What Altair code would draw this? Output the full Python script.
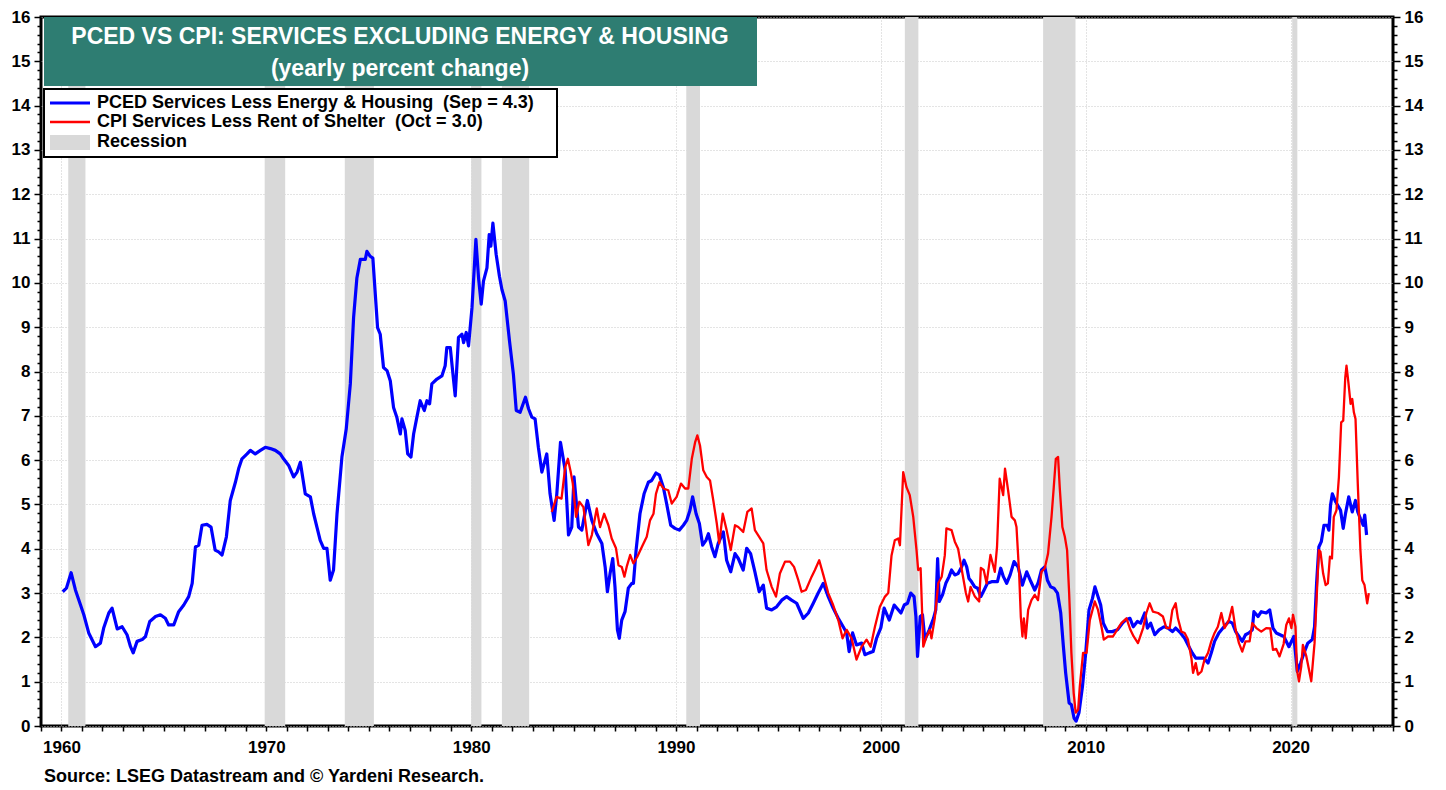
import altair as alt
import pandas as pd

# ---------------- data ----------------
pced_year = [1960.06, 1960.24, 1960.47, 1960.68, 1960.93, 1961.09, 1961.33, 1961.66, 1961.90, 1962.06,
             1962.31, 1962.47, 1962.72, 1962.96, 1963.20, 1963.37, 1963.50, 1963.69, 1963.94, 1964.10,
             1964.31, 1964.59, 1964.83, 1965.07, 1965.23, 1965.48, 1965.72, 1965.97, 1966.21, 1966.38,
             1966.54, 1966.70, 1966.86, 1967.10, 1967.30, 1967.50, 1967.67, 1967.84, 1968.05, 1968.24,
             1968.49, 1968.65, 1968.81, 1969.06, 1969.22, 1969.46, 1969.71, 1969.95, 1970.20, 1970.44,
             1970.68, 1970.84, 1971.09, 1971.33, 1971.50, 1971.66, 1971.90, 1972.15, 1972.31, 1972.47,
             1972.63, 1972.80, 1972.96, 1973.12, 1973.28, 1973.45, 1973.69, 1973.90, 1974.10, 1974.26,
             1974.42, 1974.59, 1974.83, 1974.91, 1975.07, 1975.20, 1975.32, 1975.43, 1975.56, 1975.72,
             1975.89, 1976.05, 1976.21, 1976.37, 1976.54, 1976.62, 1976.78, 1976.90, 1977.06, 1977.19,
             1977.35, 1977.51, 1977.71, 1977.84, 1977.97, 1978.08, 1978.33, 1978.57, 1978.73, 1978.81,
             1978.98, 1979.11, 1979.22, 1979.38, 1979.55, 1979.63, 1979.76, 1979.87, 1980.04, 1980.23,
             1980.36, 1980.49, 1980.60, 1980.77, 1980.88, 1980.96, 1981.06, 1981.22, 1981.38, 1981.50,
             1981.66, 1981.87, 1982.06, 1982.20, 1982.39, 1982.52, 1982.65, 1982.80, 1982.96, 1983.12,
             1983.28, 1983.45, 1983.69, 1983.85, 1984.05, 1984.18, 1984.36, 1984.59, 1984.75, 1984.91,
             1985.02, 1985.24, 1985.40, 1985.67, 1985.89, 1986.13, 1986.38, 1986.54, 1986.65, 1986.78,
             1986.91, 1987.02, 1987.14, 1987.23, 1987.35, 1987.51, 1987.67, 1987.84, 1987.92, 1988.05,
             1988.24, 1988.44, 1988.65, 1988.81, 1989.02, 1989.19, 1989.38, 1989.54, 1989.74, 1989.95,
             1990.16, 1990.36, 1990.52, 1990.68, 1990.81, 1990.98, 1991.14, 1991.30, 1991.46, 1991.58,
             1991.74, 1991.90, 1992.06, 1992.31, 1992.47, 1992.67, 1992.88, 1993.04, 1993.28, 1993.45,
             1993.64, 1993.85, 1994.06, 1994.26, 1994.42, 1994.67, 1994.91, 1995.16, 1995.40, 1995.64,
             1995.89, 1996.21, 1996.46, 1996.70, 1996.94, 1997.19, 1997.43, 1997.67, 1997.92, 1998.16,
             1998.33, 1998.45, 1998.62, 1998.81, 1999.06, 1999.22, 1999.43, 1999.62, 1999.79, 2000.00,
             2000.16, 2000.41, 2000.65, 2000.98, 2001.14, 2001.30, 2001.46, 2001.62, 2001.71, 2001.79,
             2001.92, 2002.03, 2002.15, 2002.36, 2002.57, 2002.68, 2002.77, 2002.85, 2003.01, 2003.17,
             2003.33, 2003.45, 2003.61, 2003.77, 2003.94, 2004.06, 2004.19, 2004.30, 2004.42, 2004.58,
             2004.72, 2004.88, 2005.04, 2005.20, 2005.44, 2005.69, 2005.85, 2005.98, 2006.14, 2006.31,
             2006.50, 2006.70, 2006.91, 2007.12, 2007.32, 2007.51, 2007.67, 2007.84, 2008.00, 2008.13,
             2008.29, 2008.45, 2008.62, 2008.78, 2008.91, 2009.02, 2009.19, 2009.30, 2009.43, 2009.53,
             2009.67, 2009.84, 2010.00, 2010.16, 2010.33, 2010.45, 2010.60, 2010.73, 2010.86, 2011.06,
             2011.30, 2011.55, 2011.79, 2011.95, 2012.16, 2012.32, 2012.52, 2012.68, 2012.88, 2013.01,
             2013.17, 2013.37, 2013.58, 2013.82, 2014.01, 2014.23, 2014.39, 2014.63, 2014.83, 2015.04,
             2015.20, 2015.37, 2015.58, 2015.77, 2015.97, 2016.13, 2016.29, 2016.50, 2016.75, 2016.99,
             2017.16, 2017.32, 2017.48, 2017.64, 2017.80, 2017.97, 2018.13, 2018.21, 2018.41, 2018.57,
             2018.81, 2018.98, 2019.14, 2019.30, 2019.67, 2019.92, 2020.16, 2020.33, 2020.49, 2020.68,
             2020.84, 2021.06, 2021.17, 2021.27, 2021.38, 2021.50, 2021.63, 2021.79, 2021.87, 2021.95,
             2022.04, 2022.20, 2022.44, 2022.57, 2022.68, 2022.84, 2023.01, 2023.17, 2023.28, 2023.41,
             2023.55, 2023.62, 2023.71]
pced_val = [3.03, 3.11, 3.46, 3.07, 2.73, 2.51, 2.10, 1.79, 1.87, 2.21,
            2.55, 2.66, 2.19, 2.24, 2.06, 1.79, 1.65, 1.91, 1.95, 2.02,
            2.36, 2.47, 2.51, 2.43, 2.28, 2.28, 2.58, 2.73, 2.92, 3.22,
            4.04, 4.08, 4.53, 4.55, 4.49, 3.97, 3.93, 3.86, 4.27, 5.09,
            5.50, 5.81, 6.03, 6.14, 6.22, 6.14, 6.22, 6.29, 6.26, 6.22,
            6.14, 6.03, 5.88, 5.62, 5.73, 5.95, 5.24, 5.17, 4.79, 4.49,
            4.19, 4.01, 4.01, 3.29, 3.52, 4.79, 6.07, 6.70, 7.72, 9.22,
            10.11, 10.53, 10.53, 10.71, 10.60, 10.56, 9.74, 8.99, 8.84, 8.09,
            8.02, 7.79, 7.19, 6.97, 6.59, 6.93, 6.67, 6.14, 6.07, 6.59,
            6.97, 7.34, 7.12, 7.34, 7.27, 7.72, 7.83, 7.90, 8.13, 8.54,
            8.54, 7.94, 7.45, 8.77, 8.84, 8.65, 8.88, 8.58, 9.44, 10.98,
            10.11, 9.52, 10.04, 10.34, 11.09, 10.83, 11.35, 10.64, 10.15, 9.85,
            9.59, 8.69, 7.94, 7.12, 7.08, 7.25, 7.42, 7.16, 6.97, 6.93,
            6.29, 5.73, 6.14, 5.24, 4.64, 5.24, 6.40, 5.77, 4.31, 4.49,
            5.62, 4.49, 4.42, 5.09, 4.64, 4.34, 4.12, 3.59, 3.03, 3.44,
            3.78, 3.14, 2.17, 1.98, 2.39, 2.58, 3.11, 3.22, 3.22, 3.97,
            4.79, 5.24, 5.50, 5.54, 5.71, 5.66, 5.39, 5.02, 4.53, 4.46,
            4.42, 4.53, 4.64, 4.87, 5.17, 4.79, 4.57, 4.08, 4.19, 4.34,
            4.04, 3.82, 4.12, 4.38, 3.74, 3.48, 3.89, 3.78, 3.52, 4.01,
            3.89, 3.48, 3.03, 3.18, 2.66, 2.62, 2.69, 2.84, 2.92, 2.84,
            2.77, 2.43, 2.55, 2.77, 3.00, 3.22, 2.92, 2.66, 2.43, 2.24,
            2.10, 1.68, 2.10, 1.83, 1.87, 1.61, 1.65, 1.68, 1.98, 2.22,
            2.66, 2.39, 2.73, 2.55, 2.73, 2.77, 3.00, 2.92, 2.47, 1.57,
            2.47, 2.51, 1.95, 2.17, 2.43, 2.62, 3.78, 2.81, 2.96, 3.22,
            3.37, 3.52, 3.41, 3.44, 3.59, 3.74, 3.59, 3.33, 3.26, 3.14,
            3.11, 2.92, 3.07, 3.22, 3.26, 3.26, 3.56, 3.37, 3.22, 3.41,
            3.71, 3.59, 3.18, 3.48, 3.26, 3.07, 3.22, 3.52, 3.59, 3.29,
            3.14, 3.11, 3.00, 2.55, 1.79, 1.20, 0.52, 0.48, 0.18, 0.11,
            0.30, 0.89, 1.65, 2.62, 2.88, 3.14, 2.92, 2.73, 2.32, 2.13,
            2.13, 2.17, 2.32, 2.39, 2.43, 2.24, 2.36, 2.32, 2.55, 2.21,
            2.32, 2.06, 2.17, 2.24, 2.21, 2.13, 2.21, 2.10, 1.98, 1.79,
            1.65, 1.53, 1.53, 1.53, 1.42, 1.65, 1.91, 2.10, 2.24, 2.36,
            2.32, 2.13, 2.02, 1.91, 2.06, 2.10, 2.17, 2.58, 2.47, 2.58,
            2.55, 2.62, 2.21, 2.10, 2.02, 1.79, 2.02, 1.23, 1.42, 1.68,
            1.87, 1.95, 2.24, 3.22, 4.04, 4.16, 4.53, 4.53, 4.42, 4.98,
            5.24, 5.06, 4.87, 4.46, 4.79, 5.17, 4.83, 5.09, 4.83, 4.68,
            4.53, 4.76, 4.31]

cpi_year = [1983.93, 1984.17, 1984.41, 1984.59, 1984.72, 1984.86, 1984.96, 1985.12, 1985.28, 1985.48,
            1985.72, 1985.89, 1986.13, 1986.29, 1986.49, 1986.70, 1986.86, 1987.07, 1987.19, 1987.35,
            1987.48, 1987.59, 1987.76, 1987.92, 1988.11, 1988.33, 1988.57, 1988.73, 1988.90, 1989.02,
            1989.19, 1989.38, 1989.62, 1989.79, 1990.03, 1990.24, 1990.44, 1990.60, 1990.77, 1990.93,
            1991.04, 1991.17, 1991.33, 1991.50, 1991.66, 1991.82, 1991.99, 1992.11, 1992.28, 1992.47,
            1992.67, 1992.88, 1993.04, 1993.28, 1993.48, 1993.69, 1993.85, 1994.06, 1994.26, 1994.42,
            1994.67, 1994.88, 1995.07, 1995.32, 1995.56, 1995.76, 1995.97, 1996.13, 1996.34, 1996.62,
            1996.78, 1996.99, 1997.19, 1997.43, 1997.67, 1997.92, 1998.13, 1998.33, 1998.57, 1998.81,
            1999.06, 1999.30, 1999.50, 1999.71, 1999.95, 2000.20, 2000.36, 2000.52, 2000.68, 2000.85,
            2000.93, 2001.09, 2001.25, 2001.41, 2001.58, 2001.74, 2001.82, 2001.94, 2002.07, 2002.23,
            2002.39, 2002.47, 2002.63, 2002.80, 2002.97, 2003.12, 2003.20, 2003.45, 2003.61, 2003.77,
            2003.94, 2004.15, 2004.26, 2004.38, 2004.59, 2004.80, 2004.88, 2005.02, 2005.16, 2005.35,
            2005.56, 2005.67, 2005.80, 2005.97, 2006.06, 2006.21, 2006.38, 2006.54, 2006.62, 2006.75,
            2006.83, 2006.91, 2006.98, 2007.07, 2007.19, 2007.35, 2007.51, 2007.67, 2007.84, 2008.00,
            2008.16, 2008.33, 2008.44, 2008.54, 2008.65, 2008.73, 2008.86, 2008.98, 2009.09, 2009.19,
            2009.30, 2009.41, 2009.51, 2009.63, 2009.71, 2009.87, 2010.04, 2010.20, 2010.44, 2010.60,
            2010.77, 2010.88, 2011.09, 2011.33, 2011.53, 2011.74, 2011.99, 2012.18, 2012.34, 2012.55,
            2012.80, 2012.96, 2013.12, 2013.28, 2013.53, 2013.77, 2013.94, 2014.10, 2014.23, 2014.39,
            2014.50, 2014.67, 2014.83, 2014.99, 2015.16, 2015.24, 2015.37, 2015.48, 2015.65, 2015.80,
            2015.97, 2016.13, 2016.29, 2016.45, 2016.62, 2016.78, 2016.99, 2017.15, 2017.32, 2017.48,
            2017.64, 2017.80, 2018.00, 2018.13, 2018.33, 2018.57, 2018.81, 2019.01, 2019.14, 2019.30,
            2019.46, 2019.66, 2019.79, 2019.92, 2020.04, 2020.12, 2020.24, 2020.31, 2020.41, 2020.52,
            2020.60, 2020.77, 2020.90, 2021.01, 2021.17, 2021.38, 2021.46, 2021.59, 2021.71, 2021.82,
            2021.92, 2022.02, 2022.11, 2022.24, 2022.36, 2022.47, 2022.57, 2022.67, 2022.73, 2022.83,
            2022.93, 2023.01, 2023.09, 2023.17, 2023.28, 2023.41, 2023.50, 2023.61, 2023.74, 2023.82]
cpi_val = [4.83, 5.17, 5.13, 5.84, 6.03, 5.73, 5.47, 4.72, 5.06, 4.94,
           4.08, 4.31, 4.91, 4.49, 4.79, 4.53, 4.23, 4.01, 3.63, 3.59,
           3.37, 3.59, 3.86, 3.67, 3.82, 4.04, 4.27, 4.64, 4.79, 5.24,
           5.50, 5.36, 5.32, 5.02, 5.17, 5.47, 5.36, 5.36, 6.03, 6.40,
           6.56, 6.33, 5.77, 5.62, 5.54, 5.09, 4.57, 4.12, 4.79, 4.42,
           3.97, 4.53, 4.49, 4.38, 4.83, 4.91, 4.42, 4.27, 4.12, 3.52,
           3.14, 2.92, 3.44, 3.71, 3.71, 3.59, 3.29, 3.03, 3.07, 3.37,
           3.52, 3.74, 3.41, 3.00, 2.73, 2.39, 1.98, 2.17, 1.98, 1.50,
           1.79, 1.95, 1.79, 2.24, 2.69, 2.92, 3.00, 3.85, 4.19, 4.23,
           4.08, 5.73, 5.39, 5.21, 4.72, 3.97, 3.52, 3.56, 1.79, 2.02,
           2.17, 1.98, 2.43, 3.22, 3.37, 3.85, 4.46, 4.42, 4.16, 4.00,
           3.55, 3.00, 2.81, 3.14, 2.92, 2.81, 3.57, 3.52, 3.22, 3.86,
           3.48, 4.04, 5.58, 5.21, 5.81, 5.32, 4.72, 4.64, 4.49, 3.44,
           2.47, 2.02, 2.43, 1.98, 2.62, 2.84, 2.96, 2.84, 3.48, 3.56,
           3.89, 4.72, 5.39, 6.03, 6.07, 5.39, 4.49, 4.27, 3.97, 3.00,
           1.65, 0.75, 0.30, 0.37, 0.89, 1.65, 1.65, 2.39, 2.81, 2.62,
           2.24, 1.95, 2.02, 2.02, 2.17, 2.32, 2.43, 2.17, 2.02, 1.87,
           2.21, 2.55, 2.77, 2.58, 2.55, 2.47, 2.21, 2.21, 2.62, 2.77,
           2.43, 2.13, 2.10, 1.95, 1.53, 1.20, 1.42, 1.16, 1.23, 1.50,
           1.65, 1.91, 2.10, 2.24, 2.55, 2.21, 2.39, 2.69, 2.17, 1.87,
           1.68, 1.91, 1.91, 2.32, 2.21, 2.13, 2.21, 2.20, 1.72, 1.74,
           1.57, 1.85, 2.28, 2.43, 2.21, 2.51, 2.24, 1.27, 1.01, 1.34,
           1.83, 1.57, 1.27, 1.01, 1.87, 3.97, 3.93, 3.44, 3.18, 3.22,
           3.82, 3.78, 4.72, 4.87, 5.62, 6.85, 6.89, 7.87, 8.13, 7.72,
           7.27, 7.38, 7.08, 6.93, 5.47, 3.97, 3.29, 3.18, 2.77, 3.00]

recession_start = [1960.33, 1969.92, 1973.83, 1980.00, 1981.50, 1990.50, 2001.17, 2007.92, 2020.08]
recession_end = [1961.17, 1970.92, 1975.25, 1980.50, 1982.83, 1991.17, 2001.83, 2009.50, 2020.33]

title_line1 = "PCED VS CPI: SERVICES EXCLUDING ENERGY & HOUSING"
title_line2 = "(yearly percent change)"
legend_labels = ["PCED Services Less Energy & Housing \u00a0(Sep = 4.3)",
                 "CPI Services Less Rent of Shelter \u00a0(Oct = 3.0)",
                 "Recession"]
source_text = "Source: LSEG Datastream and \u00a9 Yardeni Research."

x_ticks = list(range(1959, 2026))
y_ticks = [round(i * 0.2, 1) for i in range(81)]

# ---------------- layout constants ----------------
W, H = 1352, 709
FONT = "Liberation Sans"
BLUE, RED, GREY, TEAL = "#0000ff", "#ff0000", "#d9d9d9", "#2e7d72"
GRID = "#c8c8c8"

pced = pd.DataFrame({"year": pced_year, "value": pced_val})
cpi = pd.DataFrame({"year": cpi_year, "value": cpi_val})
rec = pd.DataFrame({"start": recession_start, "end": recession_end})
one = pd.DataFrame({"k": [0]})

xscale = alt.Scale(domain=[1959, 2025], nice=False, zero=False)
yscale = alt.Scale(domain=[0, 16], nice=False, zero=True)

is_int = "abs(datum.value - round(datum.value)) < 0.001"

x_axis = alt.Axis(values=x_ticks, format="d",
                  labelExpr="datum.value % 10 === 0 ? datum.label : ''",
                  labelOverlap=False, labelFont=FONT, labelFontSize=17, labelFontWeight="bold",
                  labelColor="black", labelPadding=8, tickSize=5, tickColor="black", tickWidth=1.5,
                  domain=False, grid=True, gridColor=GRID, gridDash=[1, 2], gridWidth=1,
                  gridOpacity={"condition": {"test": "datum.value % 10 === 0", "value": 1}, "value": 0},
                  title=None)


def y_axis(orient):
    return alt.Axis(orient=orient, values=y_ticks, format=".0f",
                    labelExpr=f"{is_int} ? datum.label : ''",
                    labelOverlap=False, labelFont=FONT, labelFontSize=17, labelFontWeight="bold",
                    labelColor="black", labelPadding=4,
                    tickSize={"condition": {"test": is_int, "value": 7}, "value": 4},
                    tickColor="black", tickWidth=1.5, domain=False,
                    grid=(orient == "left"), gridColor=GRID, gridDash=[1, 2], gridWidth=1,
                    gridOpacity={"condition": {"test": is_int, "value": 1}, "value": 0},
                    title=None)


recessions = alt.Chart(rec).mark_rect(color=GREY).encode(
    x=alt.X("start:Q", scale=xscale, axis=x_axis), x2="end:Q",
    y=alt.value(0), y2=alt.value(H))

blue_line = alt.Chart(pced).mark_line(color=BLUE, strokeWidth=3.2, strokeJoin="round").encode(
    x=alt.X("year:Q", scale=xscale, axis=x_axis),
    y=alt.Y("value:Q", scale=yscale, axis=y_axis("left")))

red_line = alt.Chart(cpi).mark_line(color=RED, strokeWidth=2.3, strokeJoin="round").encode(
    x=alt.X("year:Q", scale=xscale, axis=x_axis),
    y=alt.Y("value:Q", scale=yscale, axis=y_axis("right")))

# title box
title_box = alt.Chart(one).mark_rect(color=TEAL).encode(
    x=alt.value(3), x2=alt.value(716), y=alt.value(0), y2=alt.value(69))
t1 = alt.Chart(one).mark_text(text=title_line1, font=FONT, fontSize=23, fontWeight="bold",
                              color="white", align="center", baseline="middle").encode(
    x=alt.value(359), y=alt.value(20))
t2 = alt.Chart(one).mark_text(text=title_line2, font=FONT, fontSize=23, fontWeight="bold",
                              color="white", align="center", baseline="middle").encode(
    x=alt.value(359), y=alt.value(52))

# legend
leg_box = alt.Chart(one).mark_rect(fill="white", stroke="black", strokeWidth=2).encode(
    x=alt.value(3), x2=alt.value(516), y=alt.value(72), y2=alt.value(140))
leg_b = alt.Chart(one).mark_rule(color=BLUE, strokeWidth=3).encode(
    x=alt.value(9), x2=alt.value(49), y=alt.value(86))
leg_r = alt.Chart(one).mark_rule(color=RED, strokeWidth=2.5).encode(
    x=alt.value(9), x2=alt.value(49), y=alt.value(105))
leg_g = alt.Chart(one).mark_rect(color=GREY).encode(
    x=alt.value(9), x2=alt.value(49), y=alt.value(118), y2=alt.value(133))
leg_texts = [
    alt.Chart(one).mark_text(text=lab, font=FONT, fontSize=18, fontWeight="bold", color="black",
                             align="left", baseline="middle").encode(x=alt.value(56), y=alt.value(yy))
    for lab, yy in zip(legend_labels, [86, 105, 125])
]

source = alt.Chart(one).mark_text(text=source_text, font=FONT, fontSize=18, fontWeight="bold",
                                  color="black", align="left", baseline="middle").encode(
    x=alt.value(3), y=alt.value(760))

chart = alt.layer(
    recessions, blue_line, red_line, title_box, t1, t2,
    leg_box, leg_b, leg_r, leg_g, *leg_texts, source
).resolve_scale(y="shared", x="shared").resolve_axis(y="independent").properties(
    width=W, height=H,
    autosize=alt.AutoSizeParams(type="none"),
    padding={"left": 33, "top": 9, "right": 45, "bottom": 62},
    background="white",
).configure_view(stroke="black", strokeWidth=3)

chart.save("out.html", embed_options={"renderer": "svg", "actions": False})
